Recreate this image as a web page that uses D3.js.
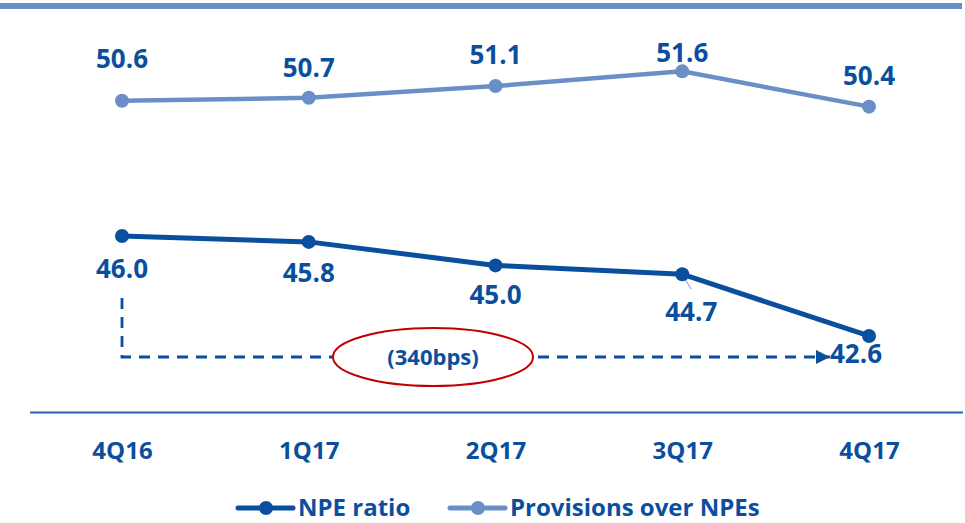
<!DOCTYPE html>
<html>
<head>
<meta charset="utf-8">
<script src="https://cdn.jsdelivr.net/npm/d3@7"></script>
<style>
  body { margin: 0; background: #fff; }
  svg { display: block; font-family: 'Open Sans', sans-serif; font-weight: bold; }
</style>
</head>
<body>
<svg id="canvas" width="965" height="523"></svg>
<script>
let quarters = ['4Q16', '1Q17', '2Q17', '3Q17', '4Q17']
let npeRatio = [46.0, 45.8, 45.0, 44.7, 42.6]
let provisions = [50.6, 50.7, 51.1, 51.6, 50.4]
let seriesNames = ['NPE ratio', 'Provisions over NPEs']
let deltaLabel = '(340bps)'

// label nudges (px)
let npeLabelDx = [0, 0, 0, 9, -13]
let npeLabelDy = [33, 31, 29, 38, 18]
let provLabelDy = [-42, -30, -31, -18, -31]

let darkBlue = '#0a4f9e'
let lightBlue = '#6a8fc6'

let canvas = d3.select('#canvas')

let xScale = d3.scalePoint()
               .domain(quarters)
               .range([122, 869])

let yScale = d3.scaleLinear()
               .domain([40, 52])
               .range([412.4, 59.6])

// top rule
canvas.append('line')
      .attr('x1', 0).attr('x2', 962)
      .attr('y1', 6).attr('y2', 6)
      .attr('stroke', lightBlue)
      .attr('stroke-width', 6)

// x axis
let xAxis = d3.axisBottom(xScale).tickSize(0).tickPadding(0)
let axisG = canvas.append('g')
                  .attr('transform', 'translate(0,' + yScale(40) + ')')
                  .call(xAxis)
axisG.select('.domain').remove()
axisG.append('line')
     .attr('x1', 30).attr('x2', 963)
     .attr('stroke', '#2a63ab')
     .attr('stroke-width', 2)
axisG.selectAll('.tick text')
     .attr('y', 38)
     .attr('dy', '0.35em')
     .attr('fill', darkBlue)
     .style('font-size', '24px')
     .style('font-family', "'Open Sans', sans-serif")
     .style('font-weight', 'bold')

let line = d3.line()
             .x((d, i) => xScale(quarters[i]))
             .y((d) => yScale(d))

// dashed change arrow, from 4Q16 down to 4Q17 level
let arrowY = 357
canvas.append('defs').append('marker')
      .attr('id', 'arrow')
      .attr('viewBox', '0 0 10 10')
      .attr('refX', 10).attr('refY', 5)
      .attr('markerWidth', 14).attr('markerHeight', 15)
      .attr('markerUnits', 'userSpaceOnUse')
      .attr('orient', 'auto')
      .append('path')
      .attr('d', 'M0,0L10,5L0,10Z')
      .attr('fill', darkBlue)

canvas.append('path')
      .attr('d', 'M' + xScale('4Q16') + ',298V' + arrowY + 'H' + 830)
      .attr('fill', 'none')
      .attr('stroke', darkBlue)
      .attr('stroke-width', 2.8)
      .attr('stroke-dasharray', '11,8')
      .attr('marker-end', 'url(#arrow)')

canvas.append('ellipse')
      .attr('cx', 433).attr('cy', arrowY)
      .attr('rx', 100).attr('ry', 29)
      .attr('fill', '#fff')
      .attr('stroke', '#c00000')
      .attr('stroke-width', 2)

canvas.append('text')
      .attr('x', 433).attr('y', arrowY)
      .attr('dy', '0.35em')
      .attr('text-anchor', 'middle')
      .attr('fill', darkBlue)
      .style('font-size', '22px')
      .text(deltaLabel)

// provisions series
canvas.append('path')
      .datum(provisions)
      .attr('d', line)
      .attr('fill', 'none')
      .attr('stroke', lightBlue)
      .attr('stroke-width', 4.5)

canvas.selectAll('.provDot')
      .data(provisions)
      .enter()
      .append('circle')
      .attr('class', 'provDot')
      .attr('cx', (d, i) => xScale(quarters[i]))
      .attr('cy', (d) => yScale(d))
      .attr('r', 7)
      .attr('fill', lightBlue)

canvas.selectAll('.provLabel')
      .data(provisions)
      .enter()
      .append('text')
      .attr('class', 'provLabel')
      .attr('x', (d, i) => xScale(quarters[i]))
      .attr('y', (d, i) => yScale(d) + provLabelDy[i])
      .attr('dy', '0.35em')
      .attr('text-anchor', 'middle')
      .attr('fill', darkBlue)
      .style('font-size', '26px')
      .text((d) => d.toFixed(1))

// leader line for 44.7
canvas.append('line')
      .attr('x1', xScale('3Q17') + 1).attr('y1', yScale(44.7) + 2)
      .attr('x2', xScale('3Q17') + 9).attr('y2', yScale(44.7) + 15)
      .attr('stroke', '#9aa7d8')
      .attr('stroke-width', 1.2)

// NPE ratio series
canvas.append('path')
      .datum(npeRatio)
      .attr('d', line)
      .attr('fill', 'none')
      .attr('stroke', darkBlue)
      .attr('stroke-width', 5)

canvas.selectAll('.npeDot')
      .data(npeRatio)
      .enter()
      .append('circle')
      .attr('class', 'npeDot')
      .attr('cx', (d, i) => xScale(quarters[i]))
      .attr('cy', (d) => yScale(d))
      .attr('r', 7)
      .attr('fill', darkBlue)

canvas.selectAll('.npeLabel')
      .data(npeRatio)
      .enter()
      .append('text')
      .attr('class', 'npeLabel')
      .attr('x', (d, i) => xScale(quarters[i]) + npeLabelDx[i])
      .attr('y', (d, i) => yScale(d) + npeLabelDy[i])
      .attr('dy', '0.35em')
      .attr('text-anchor', 'middle')
      .attr('fill', darkBlue)
      .style('font-size', '26px')
      .text((d) => d.toFixed(1))

// legend
let legendX = [238, 450]
let legendColors = [darkBlue, lightBlue]
let legend = canvas.selectAll('.legendItem')
                   .data(seriesNames)
                   .enter()
                   .append('g')
                   .attr('class', 'legendItem')
                   .attr('transform', (d, i) => 'translate(' + legendX[i] + ',508)')

legend.append('line')
      .attr('x1', 0).attr('x2', 55)
      .attr('stroke', (d, i) => legendColors[i])
      .attr('stroke-width', 5)
      .attr('stroke-linecap', 'round')
legend.append('circle')
      .attr('cx', 28).attr('r', 7)
      .attr('fill', (d, i) => legendColors[i])
legend.append('text')
      .attr('x', 60)
      .attr('dy', '0.35em')
      .attr('fill', darkBlue)
      .style('font-size', '24px')
      .text((d) => d)
</script>
</body>
</html>
